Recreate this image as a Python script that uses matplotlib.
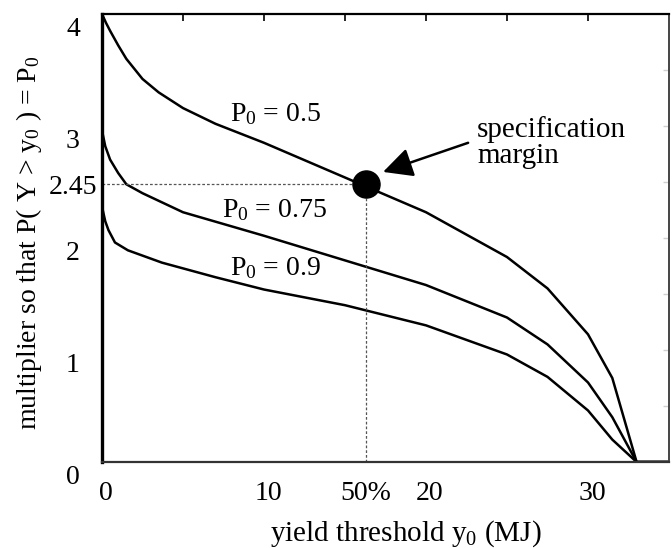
import matplotlib
matplotlib.use("Agg")
import matplotlib.pyplot as plt
import matplotlib.transforms as mtransforms

plt.rcParams['font.family'] = ['Liberation Serif', 'DejaVu Serif']
plt.rcParams['font.size'] = 20
plt.rcParams['mathtext.fontset'] = 'custom'
plt.rcParams['mathtext.rm'] = 'Liberation Serif'
plt.rcParams['mathtext.it'] = 'Liberation Serif:italic'

# ---- data ----
x_p50 = [0, 0.25, 0.5, 1, 1.5, 2.5, 3.5, 5, 7, 10, 15, 20, 25, 27.5, 30, 31.5, 33, 35]
y_p50 = [4.0, 3.92, 3.85, 3.72, 3.60, 3.42, 3.30, 3.16, 3.02, 2.85, 2.54, 2.23, 1.83, 1.55, 1.14, 0.75, 0.0, 0.0]

x_p75 = [0, 0.2, 0.5, 1, 1.5, 2.5, 5, 10, 15, 20, 25, 27.5, 30, 31.5, 33, 35]
y_p75 = [2.96, 2.82, 2.70, 2.58, 2.48, 2.40, 2.23, 2.02, 1.80, 1.58, 1.29, 1.05, 0.71, 0.40, 0.0, 0.0]

x_p90 = [0, 0.2, 0.4, 0.8, 1.6, 3.7, 7, 10, 15, 20, 25, 27.5, 30, 31.5, 33, 35]
y_p90 = [2.28, 2.15, 2.07, 1.96, 1.89, 1.78, 1.65, 1.54, 1.40, 1.22, 0.96, 0.76, 0.46, 0.2, 0.0, 0.0]

curve_labels = [r'P$_0$ = 0.5', r'P$_0$ = 0.75', r'P$_0$ = 0.9']

margin_x = 16.3
margin_y = 2.48

xtick_pos = [0, 10, 16.3, 20, 30]
xtick_labels = ['0', '10', '50%', '20', '30']
ytick_pos = [0, 1, 2, 2.48, 3, 4]
ytick_labels = ['0', '1', '2', '2.45', '3', '4']
top_ticks = [5, 10, 15, 20, 25, 30]
right_ticks = [0.5, 1, 1.5, 2, 2.5, 3, 3.5]

# ---- figure ----
fig = plt.figure(figsize=(6.72, 5.48), dpi=100)
ax = fig.add_axes([102/672, 1-462/548, 567/672, 448/548])
ax.set_xlim(0, 35)
ax.set_ylim(0, 4)

lw = 1.8
for xs, ys in [(x_p50, y_p50), (x_p75, y_p75), (x_p90, y_p90)]:
    ax.plot(xs, ys, color='black', lw=lw, solid_joinstyle='round')

# dashed guide lines
ax.plot([0, margin_x], [margin_y, margin_y], color='#555555', lw=0.9, dashes=(2.2, 1.6))
ax.plot([margin_x, margin_x], [0, margin_y], color='#555555', lw=0.9, dashes=(2.2, 1.6))
ax.plot([margin_x], [margin_y], 'o', color='black', ms=19.5, zorder=5)

# curve labels
ax.text(7.9, 3.04, curve_labels[0], ha='left', va='baseline')
ax.text(7.4, 2.19, curve_labels[1], ha='left', va='baseline')
ax.text(7.9, 1.67, curve_labels[2], ha='left', va='baseline')

# specification margin annotation
ax.text(23.15, 2.67, 'specification\nmargin', ha='left', va='baseline',
        linespacing=1.0, fontsize=21)
ax.annotate('', xy=(17.35, 2.59), xytext=(22.6, 2.85),
            arrowprops=dict(arrowstyle='-|>,head_length=0.9,head_width=0.45',
                            color='black', lw=1.8, shrinkA=0, shrinkB=0))

# spines
ax.spines['left'].set_linewidth(2.4)
ax.spines['bottom'].set_linewidth(1.6)
ax.spines['bottom'].set_color('#333333')
ax.spines['top'].set_linewidth(1.6)
ax.spines['right'].set_linewidth(1.4)
ax.spines['right'].set_color('#444444')

# ticks
ax.set_xticks(xtick_pos)
ax.set_xticklabels(xtick_labels)
ax.set_yticks(ytick_pos)
ax.set_yticklabels(ytick_labels)
ax.tick_params(axis='x', length=0, pad=14)
ax.tick_params(axis='y', length=0, pad=20.9)
for lab in ax.get_yticklabels():
    lab.set_ha('center')
    if lab.get_text() != '2.45':
        lab.set_transform(lab.get_transform() +
                          mtransforms.ScaledTranslation(0, -12/100, fig.dpi_scale_trans))
for lab in ax.get_xticklabels():
    if lab.get_text() != '50%':
        lab.set_transform(lab.get_transform() +
                          mtransforms.ScaledTranslation(4/100, 0, fig.dpi_scale_trans))

secx = ax.secondary_xaxis('top')
secx.set_xticks(top_ticks)
secx.tick_params(direction='in', length=5, width=1.2, labeltop=False)
secx.spines['top'].set_visible(False)

secy = ax.secondary_yaxis('right')
secy.set_yticks(right_ticks)
secy.tick_params(direction='in', length=4, width=1.0, color='#d0d0d0', labelright=False)
secy.spines['right'].set_visible(False)

ax.set_xlabel(r'yield threshold y$_0$ (MJ)', fontsize=21)
ax.xaxis.set_label_coords(0.536, -0.125)
ax.set_ylabel(r'multiplier so that P( Y > y$_0$ ) = P$_0$')
ax.yaxis.set_label_coords(-0.103, 0.49)

fig.savefig('out.png', dpi=100)
